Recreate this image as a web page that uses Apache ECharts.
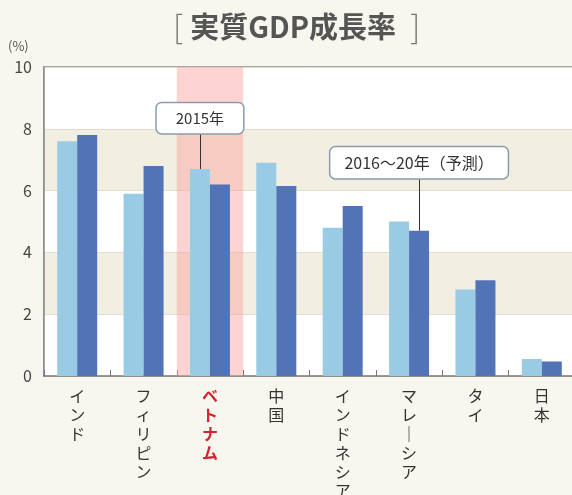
<!DOCTYPE html>
<html>
<head>
<meta charset="utf-8">
<script src="https://cdn.jsdelivr.net/npm/echarts@6/dist/echarts.min.js"></script>
<style>
	html,body{margin:0;padding:0;background:#f8f7ef;}
	#chart{width:572px;height:495px;}
</style>
</head>
<body>
<div id="chart"></div>
<script>
// 国・地域
var categories = ['インド','フィリピン','ベトナム','中国','インドネシア','マレーシア','タイ','日本'];
// 2015年 実績
var growth2015 = [7.6, 5.9, 6.7, 6.9, 4.8, 5.0, 2.8, 0.55];
// 2016～20年 予測
var growth2016_20 = [7.8, 6.8, 6.2, 6.15, 5.5, 4.7, 3.1, 0.47];
var yTicks = [0, 2, 4, 6, 8, 10];
var highlightName = 'ベトナム';

var yMax = yTicks[yTicks.length - 1];
var fontJP = '"Noto Sans CJK JP", "Noto Sans", sans-serif';

var chart = echarts.init(document.getElementById('chart'));

// 縦書き用に1文字ずつ改行
function vertical(name){
	return name.split('').map(function(c){ return c === 'ー' ? '｜' : c; }).join('\n');
}

var option = {
	backgroundColor: '#f8f7ef',
	animation: false,
	textStyle: {fontFamily: fontJP},
	title: {
		text: '{b|[ }{t|実質GDP成長率}{b|  ]}',
		left: 168,
		top: 6,
		textStyle: {
			rich: {
				b: {fontSize: 32, fontWeight: 200, color: '#777', fontFamily: fontJP},
				t: {fontSize: 29, fontWeight: 'bold', color: '#555', fontFamily: fontJP}
			}
		}
	},
	graphic: [{
		type: 'text',
		left: 8,
		top: 40,
		style: {text: '(%)', fontSize: 13, fill: '#555', fontFamily: fontJP}
	}],
	grid: {
		left: 44, top: 67, right: -3, bottom: 119,
		outerBoundsMode: 'none',
		containLabel: false,
		show: true,
		backgroundColor: 'transparent',
		borderColor: '#8c8c8c',
		borderWidth: 1.5
	},
	xAxis: [{
		type: 'category',
		data: categories,
		axisLine: {lineStyle: {color: '#777', width: 1.5}},
		axisTick: {show: true, inside: true, length: 6, lineStyle: {color: '#777'}},
		axisLabel: {
			interval: 0,
			margin: 10,
			fontSize: 16,
			lineHeight: 19,
			color: '#333',
			verticalAlign: 'top',
			formatter: function(v){
				return v === highlightName ? '{r|' + vertical(v).split('\n').join('}\n{r|') + '}' : vertical(v);
			},
			rich: {r: {color: '#d8232f', fontSize: 16, lineHeight: 19, fontWeight: 'bold'}}
		}
	}, {
		type: 'category',
		data: categories,
		show: false
	}],
	yAxis: {
		type: 'value',
		min: 0,
		max: yMax,
		interval: 2,
		axisLine: {show: true, lineStyle: {color: '#888', width: 1.5}},
		axisTick: {show: false},
		axisLabel: {fontSize: 16, color: '#444', margin: 12},
		splitLine: {lineStyle: {color: '#e0ddd2'}},
		splitArea: {show: true, areaStyle: {color: ['#ffffff', '#f2eee1']}}
	},
	series: [
		{
			name: 'highlight',
			type: 'bar',
			xAxisIndex: 1,
			barWidth: '100%',
			z: 1,
			silent: true,
			itemStyle: {color: 'rgba(250,160,155,0.45)'},
			data: categories.map(function(c){ return c === highlightName ? yMax : null; })
		},
		{
			name: '2015年',
			type: 'bar',
			barWidth: 20,
			barGap: '0%',
			z: 2,
			itemStyle: {color: '#9acbe5'},
			data: growth2015,
			markLine: {
				silent: true,
				symbol: 'none',
				lineStyle: {color: '#333', width: 1, type: 'solid'},
				label: {
					position: 'end',
					distance: 0,
					formatter: '2015年',
					fontSize: 15,
					color: '#333',
					backgroundColor: '#fff',
					borderColor: '#8a9bb0',
					borderWidth: 1.5,
					borderRadius: 5,
					padding: [8, 19, 7, 19]
				},
				data: [[{coord: [highlightName, growth2015[2]]}, {coord: [highlightName, 7.86]}]]
			}
		},
		{
			name: '2016～20年（予測）',
			type: 'bar',
			barWidth: 20,
			barGap: '0%',
			z: 2,
			itemStyle: {color: '#5273b6'},
			data: growth2016_20,
			markLine: {
				silent: true,
				symbol: 'none',
				lineStyle: {color: '#333', width: 1, type: 'solid'},
				label: {
					position: 'end',
					distance: 0,
					formatter: '2016～20年（予測）',
					fontSize: 16,
					color: '#333',
					backgroundColor: '#fff',
					borderColor: '#8a9bb0',
					borderWidth: 1.5,
					borderRadius: 5,
					padding: [8, 14, 7, 14]
				},
				data: [[{coord: ['マレーシア', growth2016_20[5]]}, {coord: ['マレーシア', 6.4]}]]
			}
		}
	]
};

chart.setOption(option);
</script>
</body>
</html>
